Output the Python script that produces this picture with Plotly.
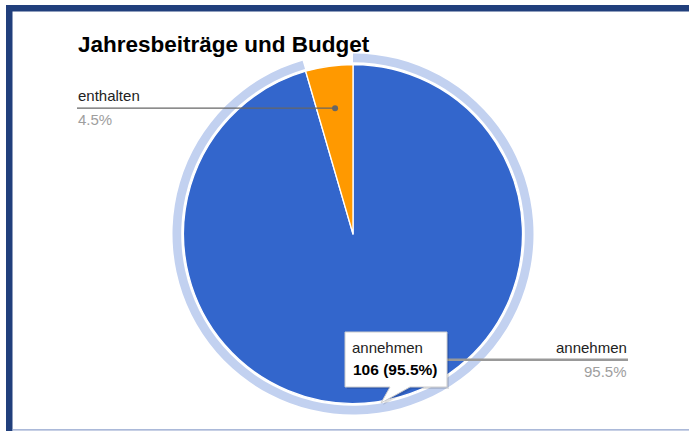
import math
import plotly.graph_objects as go

# ---- data ----
title_text = "Jahresbeiträge und Budget"
labels = ["annehmen", "enthalten"]
values = [106, 5]
colors = ["#3366cc", "#ff9900"]
hovered = "annehmen"

# ---- geometry (pixels) ----
W, H = 689, 431
CX, CY, R = 353, 234, 169.5
RING_IN, RING_OUT = 171.8, 180.5
FONT = "Arial, 'Liberation Sans', sans-serif"


def px(x):
    return x / W


def py(y):
    return 1 - y / H


def dom(r):
    return dict(x=[px(CX - r), px(CX + r)], y=[py(CY + r), py(CY - r)])


total = sum(values)
hi = labels.index(hovered)
ring_colors = ["rgba(194,209,240,1)" if i == hi else "rgba(0,0,0,0)" for i in range(len(labels))]

fig = go.Figure()
fig.add_trace(go.Pie(
    labels=labels, values=values, sort=False, direction="clockwise", rotation=0,
    hole=RING_IN / RING_OUT, domain=dom(RING_OUT),
    marker=dict(colors=ring_colors, line=dict(width=0)),
    textinfo="none", hoverinfo="skip", showlegend=False,
))
fig.add_trace(go.Pie(
    labels=labels, values=values, sort=False, direction="clockwise", rotation=0,
    domain=dom(R),
    marker=dict(colors=colors, line=dict(color="white", width=1.3)),
    textinfo="none", hoverinfo="skip", showlegend=False,
))

shapes = []
annotations = []

# frame
FRAME = "#213f7c"
shapes.append(dict(type="rect", xref="paper", yref="paper", x0=px(6), x1=px(12.5), y0=py(431), y1=py(5),
                   fillcolor=FRAME, line=dict(width=0), layer="above"))
shapes.append(dict(type="rect", xref="paper", yref="paper", x0=px(6), x1=px(689), y0=py(11.5), y1=py(5),
                   fillcolor=FRAME, line=dict(width=0), layer="above"))
shapes.append(dict(type="rect", xref="paper", yref="paper", x0=px(12.5), x1=px(689), y0=py(430.6), y1=py(429.2),
                   fillcolor="#8fa2cc", line=dict(width=0), layer="above"))

# title
annotations.append(dict(text="<b>" + title_text + "</b>", xref="paper", yref="paper",
                        x=px(75.5), y=py(52 - 0.35 * 22.5), xanchor="left", yanchor="middle",
                        showarrow=False, font=dict(family=FONT, size=22.5, color="#000000")))

# leader lines and labels
LEFT_X, RIGHT_X = 77, 628
cum = 0
for i, (lab, v) in enumerate(zip(labels, values)):
    mid = (cum + v / 2) / total * 2 * math.pi
    cum += v
    dx = CX + 0.75 * R * math.sin(mid)
    dy = CY - 0.75 * R * math.cos(mid)
    pct = f"{v / total * 100:.1f}%"
    is_hi = (i == hi)
    if math.sin(mid) < 0:
        xa, xb, tx, anchor = LEFT_X, dx, LEFT_X, "left"
    else:
        xa, xb, tx, anchor = dx, RIGHT_X, RIGHT_X, "right"
    shapes.append(dict(type="line", xref="paper", yref="paper", x0=px(xa), x1=px(xb), y0=py(dy), y1=py(dy),
                       line=dict(color="#999999" if is_hi else "#666666", width=2.5 if is_hi else 1.2),
                       layer="above"))
    if not is_hi:
        shapes.append(dict(type="circle", xref="paper", yref="paper",
                           x0=px(dx - 3), x1=px(dx + 3), y0=py(dy + 3), y1=py(dy - 3),
                           fillcolor="#666666", line=dict(width=0), layer="above"))
    tx_off = -1 if anchor == "left" else 1
    annotations.append(dict(text=lab, xref="paper", yref="paper", x=px(tx + tx_off),
                            y=py(dy - 7.6 - 0.35 * 15), xanchor=anchor, yanchor="middle", showarrow=False,
                            font=dict(family=FONT, size=15, color="#222222")))
    annotations.append(dict(text=pct, xref="paper", yref="paper", x=px(tx + tx_off),
                            y=py(dy + 16.8 - 0.35 * 15), xanchor=anchor, yanchor="middle", showarrow=False,
                            font=dict(family=FONT, size=15, color="#9e9e9e")))

# tooltip for hovered slice
bx0, bx1, by0, by1 = 345, 447, 332, 387
tail = [(410, by1), (381, 403), (390, by1)]


def path(off=0):
    pts = [(bx0, by0), (bx1, by0), (bx1, by1), tail[0], tail[1], tail[2], (bx0, by1)]
    return "M " + " L ".join(f"{px(x + off)},{py(y + off)}" for x, y in pts) + " Z"


shapes.append(dict(type="path", xref="paper", yref="paper", path=path(2),
                   fillcolor="rgba(0,0,0,0.12)", line=dict(width=0), layer="above"))
shapes.append(dict(type="path", xref="paper", yref="paper", path=path(0),
                   fillcolor="white", line=dict(color="#cccccc", width=1), layer="above"))
annotations.append(dict(text=labels[hi], xref="paper", yref="paper", x=px(350), y=py(353 - 0.35 * 15),
                        xanchor="left", yanchor="middle", showarrow=False,
                        font=dict(family=FONT, size=15, color="#222222")))
annotations.append(dict(text=f"<b>{values[hi]} ({values[hi] / total * 100:.1f}%)</b>", xref="paper", yref="paper",
                        x=px(351), y=py(375 - 0.35 * 15.5), xanchor="left", yanchor="middle", showarrow=False,
                        font=dict(family=FONT, size=15.5, color="#000000")))

fig.update_layout(
    width=W, height=H, margin=dict(l=0, r=0, t=0, b=0),
    paper_bgcolor="white", plot_bgcolor="white",
    shapes=shapes, annotations=annotations, showlegend=False,
)
fig.write_html("out.html", config={"displayModeBar": False, "staticPlot": True},
               post_script="document.body.style.margin='0';document.body.style.overflow='hidden';")
